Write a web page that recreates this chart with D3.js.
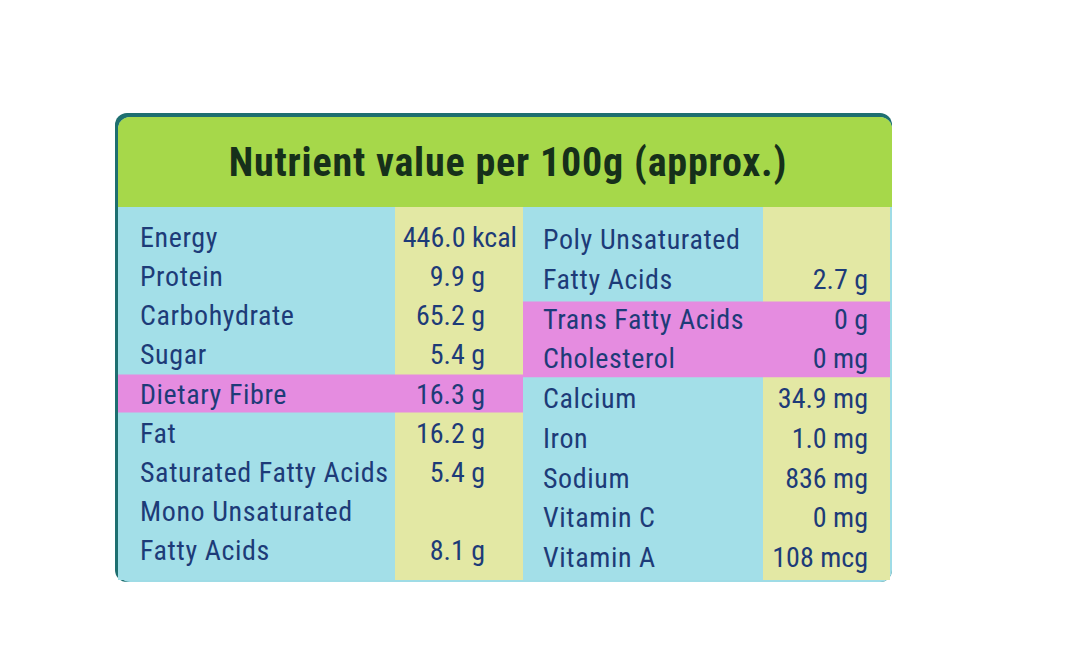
<!DOCTYPE html>
<html><head><meta charset="utf-8">
<script src="https://cdn.jsdelivr.net/npm/d3@7/dist/d3.min.js"></script>
<style>body{margin:0;background:#fff}</style></head>
<body><svg id="c" width="1068" height="671"></svg>
<script>
const title = "Nutrient value per 100g (approx.)";
const leftLabels = ["Energy","Protein","Carbohydrate","Sugar","Dietary Fibre","Fat","Saturated Fatty Acids","Mono Unsaturated","Fatty Acids"];
const leftValues = ["446.0 kcal","9.9 g","65.2 g","5.4 g","16.3 g","16.2 g","5.4 g","","8.1 g"];
const leftHighlight = [4];
const rightLabels = ["Poly Unsaturated","Fatty Acids","Trans Fatty Acids","Cholesterol","Calcium","Iron","Sodium","Vitamin C","Vitamin A"];
const rightValues = ["","2.7 g","0 g","0 mg","34.9 mg","1.0 mg","836 mg","0 mg","108 mcg"];
const rightHighlight = [2,3];

const svg = d3.select("#c");
const font = "'Liberation Sans Narrow','Arial Narrow','Roboto Condensed',sans-serif";
const ink = "#1d3b78";
svg.append("rect").attr("x",115).attr("y",113).attr("width",777).attr("height",469).attr("rx",12).attr("fill","#1e6f70");
svg.append("rect").attr("x",118).attr("y",117).attr("width",774).attr("height",465).attr("rx",12).attr("fill","#9fdce6");
svg.append("rect").attr("x",118).attr("y",117).attr("width",774).attr("height",90).attr("rx",12).attr("fill","#a6d84a");
svg.append("rect").attr("x",118).attr("y",195).attr("width",774).attr("height",12).attr("fill","#a6d84a");
svg.append("text").attr("x",508).attr("y",176).attr("text-anchor","middle")
  .attr("font-family",font).attr("font-size",40).attr("letter-spacing",0.8).attr("font-weight","bold").attr("fill","#16301a").text(title);
svg.append("rect").attr("x",118).attr("y",207).attr("width",277).attr("height",373).attr("fill","#a3dfe8");
svg.append("rect").attr("x",395).attr("y",207).attr("width",128).attr("height",373).attr("fill","#e3e8a4");
svg.append("rect").attr("x",523).attr("y",207).attr("width",240).attr("height",373).attr("fill","#a3dfe8");
svg.append("rect").attr("x",763).attr("y",207).attr("width",127).attr("height",373).attr("fill","#e3e8a4");

const yL = d3.scalePoint().domain(d3.range(leftLabels.length)).range([247,560]);
const yR = d3.scalePoint().domain(d3.range(rightLabels.length)).range([249,567]);

svg.selectAll(".hl").data(leftHighlight).join("rect")
  .attr("x",118).attr("y",d=>yL(d)-29).attr("width",405).attr("height",38).attr("fill","#e58ce0");
svg.append("rect").attr("x",523).attr("y",yR(rightHighlight[0])-27).attr("width",367)
  .attr("height",yR(rightHighlight[1])-yR(rightHighlight[0])+36).attr("fill","#e58ce0");

const txt = (data, x, y, anchor) => svg.append("g").selectAll("text").data(data).join("text")
  .attr("x",x).attr("y",(d,i)=>y(i)).attr("text-anchor",anchor)
  .attr("font-family",font).attr("font-size",28).attr("letter-spacing",0.6).attr("fill",ink).text(d=>d);
txt(leftLabels,140,yL,"start");
svg.append("g").selectAll("text").data(leftValues).join("text")
  .attr("x",(d,i)=>i===0?517:485).attr("y",(d,i)=>yL(i)).attr("text-anchor","end")
  .attr("font-family",font).attr("font-size",28).attr("fill",ink).text(d=>d);
txt(rightLabels,543,yR,"start");
svg.append("g").selectAll("text").data(rightValues).join("text")
  .attr("x",868).attr("y",(d,i)=>yR(i)).attr("text-anchor","end")
  .attr("font-family",font).attr("font-size",28).attr("fill",ink).text(d=>d);
</script></body></html>
